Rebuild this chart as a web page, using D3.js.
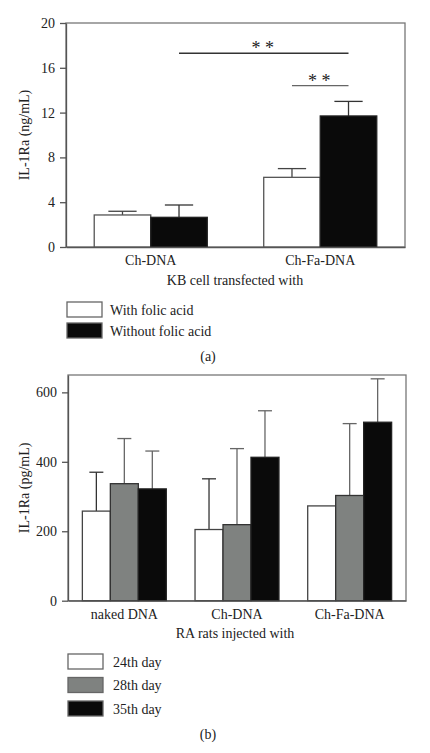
<!DOCTYPE html>
<html><head><meta charset="utf-8">
<script src="https://cdn.jsdelivr.net/npm/d3@7"></script>
<style>
body{margin:0;background:#fff;}
text{font-family:"Liberation Serif","DejaVu Serif",serif;fill:#222;}
</style></head>
<body><svg id="c" width="430" height="753"></svg>
<script>
// ---------- Data: panel (a) ----------
const catsA = ["Ch-DNA", "Ch-Fa-DNA"];
const seriesA = ["With folic acid", "Without folic acid"];
const withFolic = [2.86, 6.22];
const withFolicErr = [0.33, 0.78];
const withoutFolic = [2.65, 11.7];
const withoutFolicErr = [1.1, 1.3];
const ticksA = [0, 4, 8, 12, 16, 20];
// significance: [fromCategory, fromSeries, toCategory, toSeries, yValue]
const sigA = [
  ["Ch-DNA", 1, "Ch-Fa-DNA", 1, 17.3],
  ["Ch-Fa-DNA", 0, "Ch-Fa-DNA", 1, 14.4]
];

// ---------- Data: panel (b) ----------
const catsB = ["naked DNA", "Ch-DNA", "Ch-Fa-DNA"];
const seriesB = ["24th day", "28th day", "35th day"];
const day24 = [258, 205, 273];
const day24Err = [112, 146, 0];
const day28 = [337, 219, 303];
const day28Err = [130, 219, 207];
const day35 = [322, 413, 514];
const day35Err = [109, 134, 125];
const ticksB = [0, 200, 400, 600];

const svg = d3.select("#c");
const edge = "#555";
const FS = 14;

function panel(o) {
  const g = svg.append("g");
  const x0 = d3.scaleBand().domain(o.cats).range([o.left, o.right])
    .paddingInner(o.padIn).paddingOuter(o.padIn / 2);
  const x1 = d3.scaleBand().domain(d3.range(o.series.length)).range([0, x0.bandwidth()]);
  const y = d3.scaleLinear().domain(o.domain).range([o.bottom, o.top]);

  // frame
  g.append("rect").attr("x", o.left).attr("y", o.top)
    .attr("width", o.right - o.left).attr("height", o.bottom - o.top)
    .attr("fill", "none").attr("stroke", "#777").attr("stroke-width", 1.3);

  // bars
  o.series.forEach((s, si) => {
    o.cats.forEach((c, ci) => {
      const v = o.values[si][ci], e = o.errs[si][ci];
      const bx = x0(c) + x1(si), bw = x1.bandwidth();
      const cx = bx + bw / 2;
      if (e > 0) {
        g.append("line").attr("x1", cx).attr("x2", cx).attr("y1", y(v)).attr("y2", y(v + e))
          .attr("stroke", o.errColor[si]).attr("stroke-width", 1.3);
        g.append("line").attr("x1", cx - bw / 4).attr("x2", cx + bw / 4).attr("y1", y(v + e)).attr("y2", y(v + e))
          .attr("stroke", o.errColor[si]).attr("stroke-width", 1.3);
      }
      g.append("rect").attr("x", bx).attr("y", y(v)).attr("width", bw).attr("height", y(0) - y(v))
        .attr("fill", o.colors[si]).attr("stroke", o.strokes[si]).attr("stroke-width", 1.3);
    });
  });

  // y axis
  const ax = g.append("g").attr("transform", `translate(${o.left},0)`)
    .call(d3.axisLeft(y).tickValues(o.ticks).tickSize(6).tickPadding(5).tickSizeOuter(0));
  ax.select(".domain").attr("stroke", edge).attr("stroke-width", 1.3);
  ax.selectAll(".tick line").attr("stroke", edge).attr("stroke-width", 1.3);
  ax.selectAll(".tick text").attr("font-size", FS).attr("fill", "#222")
    .attr("font-family", "Liberation Serif, serif");

  // x axis
  const bx = g.append("g").attr("transform", `translate(0,${o.bottom})`)
    .call(d3.axisBottom(x0).tickSize(0).tickPadding(o.xPad));
  bx.select(".domain").attr("stroke", edge).attr("stroke-width", 1.3);
  bx.selectAll(".tick text").attr("font-size", FS).attr("fill", "#222")
    .attr("font-family", "Liberation Serif, serif");

  // axis titles
  g.append("text").attr("transform", `translate(${o.yLabX},${(o.top + o.bottom) / 2 + o.yLabDy}) rotate(-90)`)
    .attr("text-anchor", "middle").attr("font-size", FS).text(o.yLabel);
  g.append("text").attr("x", o.xLabCx).attr("y", o.xLabY).attr("text-anchor", "middle")
    .attr("font-size", FS).text(o.xLabel);

  // legend
  o.series.forEach((s, si) => {
    const ly = o.legY + si * o.legStep;
    g.append("rect").attr("x", o.legX).attr("y", ly).attr("width", 35).attr("height", 15)
      .attr("fill", o.colors[si]).attr("stroke", "#666").attr("stroke-width", 1.3);
    g.append("text").attr("x", o.legX + o.legTextDx).attr("y", ly + 12.5).attr("font-size", FS).text(s);
  });
  g.append("text").attr("x", 208).attr("y", o.capY).attr("text-anchor", "middle")
    .attr("font-size", FS).text(o.cap);
  return { g, x0, x1, y };
}

const A = panel({
  cats: catsA, series: seriesA,
  values: [withFolic, withoutFolic], errs: [withFolicErr, withoutFolicErr],
  colors: ["#fff", "#0a0a0a"], strokes: ["#555", "#222"], errColor: ["#444", "#333"],
  left: 66, right: 405, top: 23, bottom: 247, padIn: 0.333, domain: [0, 20], ticks: ticksA,
  xPad: 8, yLabel: "IL-1Ra (ng/mL)", yLabX: 29, yLabDy: 0,
  xLabel: "KB cell transfected with", xLabCx: 235, xLabY: 285,
  legX: 67, legY: 302, legStep: 21, legTextDx: 43, cap: "(a)", capY: 361
});

// significance markers
sigA.forEach((s, i) => {
  const xa = A.x0(s[0]) + A.x1(s[1]) + A.x1.bandwidth() / 2;
  const xb = A.x0(s[2]) + A.x1(s[3]) + A.x1.bandwidth() / 2;
  const yy = A.y(s[4]);
  A.g.append("line").attr("x1", xa).attr("x2", xb).attr("y1", yy).attr("y2", yy)
    .attr("stroke", i === 0 ? "#333" : "#666").attr("stroke-width", 1.3);
  A.g.append("text").attr("x", (xa + xb) / 2 - 1).attr("y", yy + 1).attr("text-anchor", "middle")
    .attr("font-size", 18).attr("fill", "#444").text("* *");
});

panel({
  cats: catsB, series: seriesB,
  values: [day24, day28, day35], errs: [day24Err, day28Err, day35Err],
  colors: ["#fff", "#7f8280", "#0a0a0a"], strokes: ["#444", "#333", "#222"], errColor: ["#333", "#666", "#666"],
  left: 68, right: 406, top: 375, bottom: 600.7, padIn: 0.255, domain: [0, 650], ticks: ticksB,
  xPad: 8, yLabel: "IL-1Ra (pg/mL)", yLabX: 29, yLabDy: 0,
  xLabel: "RA rats injected with", xLabCx: 235, xLabY: 638,
  legX: 68, legY: 654, legStep: 23.5, legTextDx: 45, cap: "(b)", capY: 739
});
</script></body></html>
